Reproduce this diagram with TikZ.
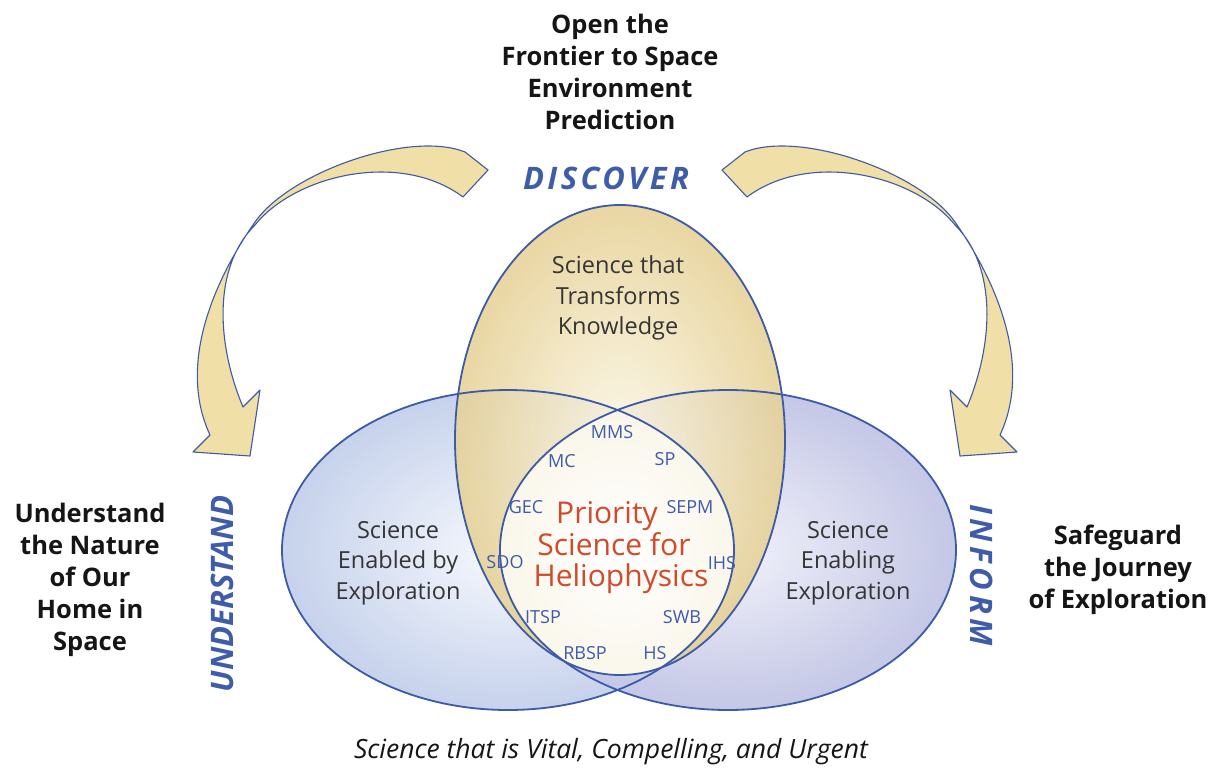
\documentclass[tikz,border=0pt]{standalone}
\usepackage{fontspec}
\setmainfont{Open Sans}
\usetikzlibrary{shapes.geometric}
\definecolor{edgeblue}{HTML}{3D5AA6}
\definecolor{labelblue}{HTML}{3F5CAA}
\definecolor{arrowfill}{HTML}{F1DFA8}
\definecolor{topouter}{HTML}{E6D196}
\definecolor{topinner}{HTML}{FBF6E4}
\definecolor{leftouter}{HTML}{C6D2EC}
\definecolor{leftinner}{HTML}{F7F9FD}
\definecolor{rightouter}{HTML}{C4C7E6}
\definecolor{rightinner}{HTML}{F2F2FA}
\definecolor{coreouter}{HTML}{F7F2E0}
\definecolor{prioritytext}{HTML}{D24A2B}
\definecolor{venntext}{HTML}{353535}
\definecolor{goaltext}{HTML}{151515}
\begin{document}
\begin{tikzpicture}[x=1pt,y=-1pt,
  goal/.style={align=center,inner sep=0pt,text=goaltext,font=\bfseries\fontsize{25.5}{32}\selectfont},
  verb/.style={inner sep=0pt,text=labelblue,font=\bfseries\itshape\fontsize{31}{34}\selectfont},
  venn/.style={align=center,inner sep=0pt,text=venntext,font=\fontsize{23.5}{30.5}\selectfont},
  prio/.style={align=center,inner sep=0pt,text=prioritytext,font=\fontsize{30}{31.5}\selectfont},
  mission/.style={inner sep=0pt,text=labelblue,font=\fontsize{18}{20}\selectfont},
  ribbon/.style={fill=arrowfill,draw=edgeblue,line width=1.1pt,line join=round},
  ring/.style={draw=edgeblue,line width=1.8pt}
]
\useasboundingbox (0,0) rectangle (1228,782);

% ---- Venn fills
\shade[inner color=leftinner,outer color=leftouter] (508,550) ellipse [x radius=226,y radius=160];
\shade[inner color=rightinner,outer color=rightouter] (728,550) ellipse [x radius=228,y radius=160];
\shade[inner color=topinner,outer color=topouter,fill opacity=0.88] (620,440) ellipse [x radius=165,y radius=235];
\begin{scope}
  \clip (508,550) ellipse [x radius=226,y radius=160];
  \clip (728,550) ellipse [x radius=228,y radius=160];
  \clip (620,440) ellipse [x radius=165,y radius=235];
  \shade[inner color=white,outer color=coreouter] (618,550) ellipse [x radius=170,y radius=190];
\end{scope}
\draw[ring] (508,550) ellipse [x radius=226,y radius=160];
\draw[ring] (728,550) ellipse [x radius=228,y radius=160];
\draw[ring] (620,440) ellipse [x radius=165,y radius=235];

% ---- ribbons (curved arrows)
\draw[ribbon] (722,170) -- (745,152)
  .. controls (800,130) and (920,172) .. (955,222)
  .. controls (990,272) and (1035,360) .. (1000,435)
  -- (1017,452) -- (960,456) -- (950,390) -- (967,407)
  .. controls (993,345) and (998,268) .. (955,225)
  .. controls (915,175) and (810,150) .. (747,197) -- cycle;
\draw[ribbon] (488,170) -- (465,152)
  .. controls (410,130) and (290,172) .. (255,222)
  .. controls (220,272) and (175,360) .. (210,435)
  -- (193,452) -- (250,456) -- (260,390) -- (243,407)
  .. controls (217,345) and (212,268) .. (255,225)
  .. controls (295,175) and (400,150) .. (463,197) -- cycle;

% ---- outer labels
\node[goal] (open) at (610,72) {Open the\\Frontier to Space\\Environment\\Prediction};
\node[goal] (understand) at (90,580) {Understand\\the Nature\\of Our\\Home in\\Space};
\node[goal] (safeguard) at (1118,570) {Safeguard\\the Journey\\of Exploration};
\node[verb] (discover) at (606,178) {\addfontfeature{LetterSpace=11}DISCOVER};
\node[verb,rotate=90] (understandverb) at (222,594) {UNDERSTAND};
\node[verb,rotate=-90] (inform) at (982,575) {\addfontfeature{LetterSpace=15}INFORM};
\node[inner sep=0pt,text=goaltext,font=\itshape\fontsize{26.5}{30}\selectfont] (vital) at (611,752)
  {Science that is Vital, Compelling, and Urgent};

% ---- Venn labels
\node[venn] (transforms) at (618,298) {Science that\\Transforms\\Knowledge};
\node[venn] (enabled) at (398,563) {Science\\Enabled by\\Exploration};
\node[venn] (enabling) at (848,563) {Science\\Enabling\\Exploration};
\node[prio] (priority) at (614,548) {Priority\hspace*{14pt}\\Science for\\\hspace*{14pt}Heliophysics};

% ---- missions
\node[mission] (mms) at (612,432) {MMS};
\node[mission] (mc) at (562,461) {MC};
\node[mission] (sp) at (665,459) {SP};
\node[mission] (gec) at (526,507) {GEC};
\node[mission] (sepm) at (690,507) {SEPM};
\node[mission] (sdo) at (505,562) {SDO};
\node[mission] (ihs) at (722,563) {IHS};
\node[mission] (itsp) at (543,617) {ITSP};
\node[mission] (swb) at (682,617) {SWB};
\node[mission] (rbsp) at (585,653) {RBSP};
\node[mission] (hs) at (655,653) {HS};
\end{tikzpicture}
\end{document}
